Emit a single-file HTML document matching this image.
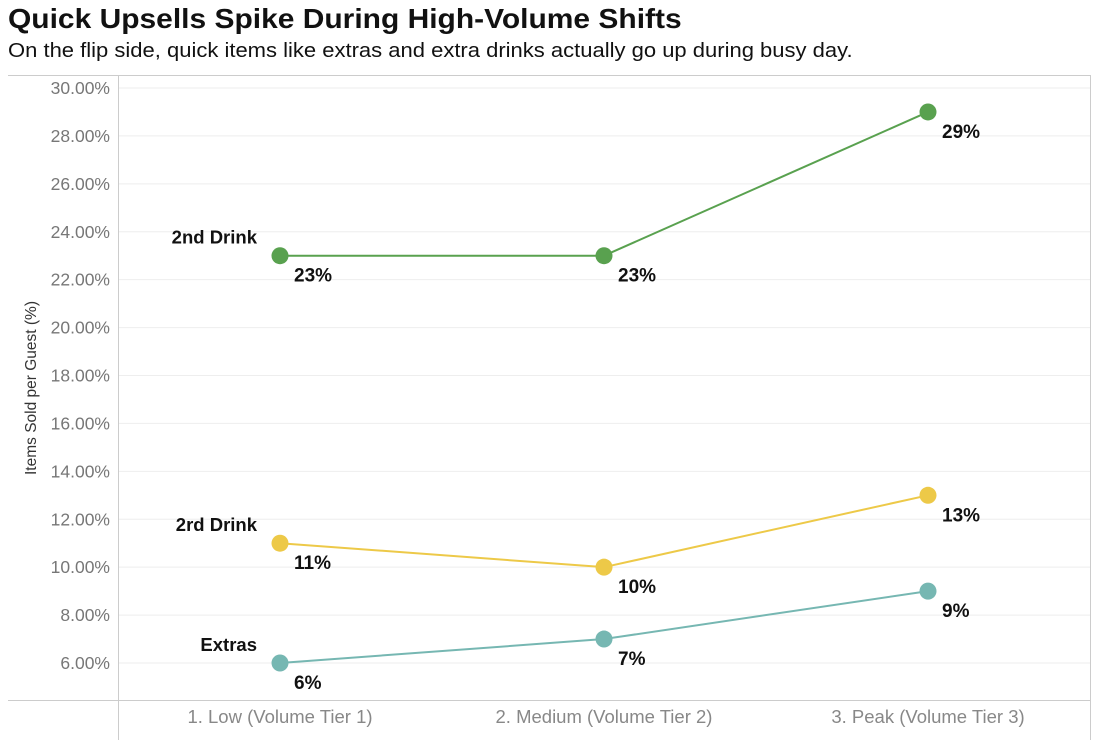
<!DOCTYPE html>
<html><head><meta charset="utf-8"><style>
body{margin:0;background:#fff;font-family:"Liberation Sans",sans-serif;}
#t{position:absolute;left:8px;top:3px;font-size:28px;font-weight:bold;color:#111;transform:scaleX(1.07);transform-origin:0 0;white-space:nowrap;}
#s{position:absolute;left:8px;top:40px;font-size:20px;color:#111;transform:scaleX(1.1);transform-origin:0 0;white-space:nowrap;}
svg{position:absolute;left:0;top:0;}
</style></head><body>
<div id="t">Quick Upsells Spike During High-Volume Shifts</div>
<div id="s">On the flip side, quick items like extras and extra drinks actually go up during busy day.</div>
<svg id="c" width="1099" height="747"></svg>
<script>
const categories=["1. Low (Volume Tier 1)","2. Medium (Volume Tier 2)","3. Peak (Volume Tier 3)"];
const seriesNames=["2nd Drink","2rd Drink","Extras"];
const drink2=[23,23,29];
const drink3=[11,10,13];
const extras=[6,7,9];
const yTicks=[6,8,10,12,14,16,18,20,22,24,26,28,30];
const colors=["#59a14f","#edc948","#76b7b2"];
const svg=document.getElementById('c');
const NS="http://www.w3.org/2000/svg";
function y(v){return 663-(v-6)*(663-88)/24;}
function x(i){return 280+i*324;}
function el(t,a,p){const e=document.createElementNS(NS,t);for(const k in a)e.setAttribute(k,a[k]);(p||svg).appendChild(e);return e;}
yTicks.forEach(v=>{
 const g=el('line',{x1:119,x2:1090,y1:y(v),y2:y(v),stroke:'#eeeeee'});
 
 
 const t=el('text',{x:110,y:y(v)+6,'text-anchor':'end','font-size':17.5,fill:'#777'});
 t.textContent=v.toFixed(2)+'%';
 
 
});
el('line',{x1:8,x2:1090,y1:75.5,y2:75.5,stroke:'#ccc'});
el('line',{x1:8,x2:1090,y1:700.5,y2:700.5,stroke:'#ccc'});
el('line',{x1:118.5,x2:118.5,y1:75,y2:740,stroke:'#ccc'});
el('line',{x1:1090.5,x2:1090.5,y1:75,y2:740,stroke:'#ccc'});
categories.forEach((c,i)=>{
 const t=el('text',{x:x(i),y:723,'text-anchor':'middle','font-size':18.5,fill:'#888'});
 t.textContent=c;
 
 
});
const yt=el('text',{x:0,y:0,transform:'translate(36,388) rotate(-90)','text-anchor':'middle','font-size':15.5,fill:'#333'});
yt.textContent='Items Sold per Guest (%)';


[drink2,drink3,extras].forEach((d,s)=>{
 const p=el('polyline',{points:d.map((v,i)=>x(i)+','+y(v)).join(' '),fill:'none',stroke:colors[s],'stroke-width':2});
 
 
 d.forEach((v,i)=>{
  const c=el('circle',{cx:x(i),cy:y(v),r:8.5,fill:colors[s]});
  
  
  const t=el('text',{x:x(i)+14,y:y(v)+26,'font-size':19,'font-weight':'bold',fill:'#111'});
  t.textContent=v+'%';
  
  
 });
 const l=el('text',{x:x(0)-23,y:y(d[0])-12,'text-anchor':'end','font-size':18.5,'font-weight':'bold',fill:'#111'});
 l.textContent=seriesNames[s];
 
 
});
</script>
</body></html>
